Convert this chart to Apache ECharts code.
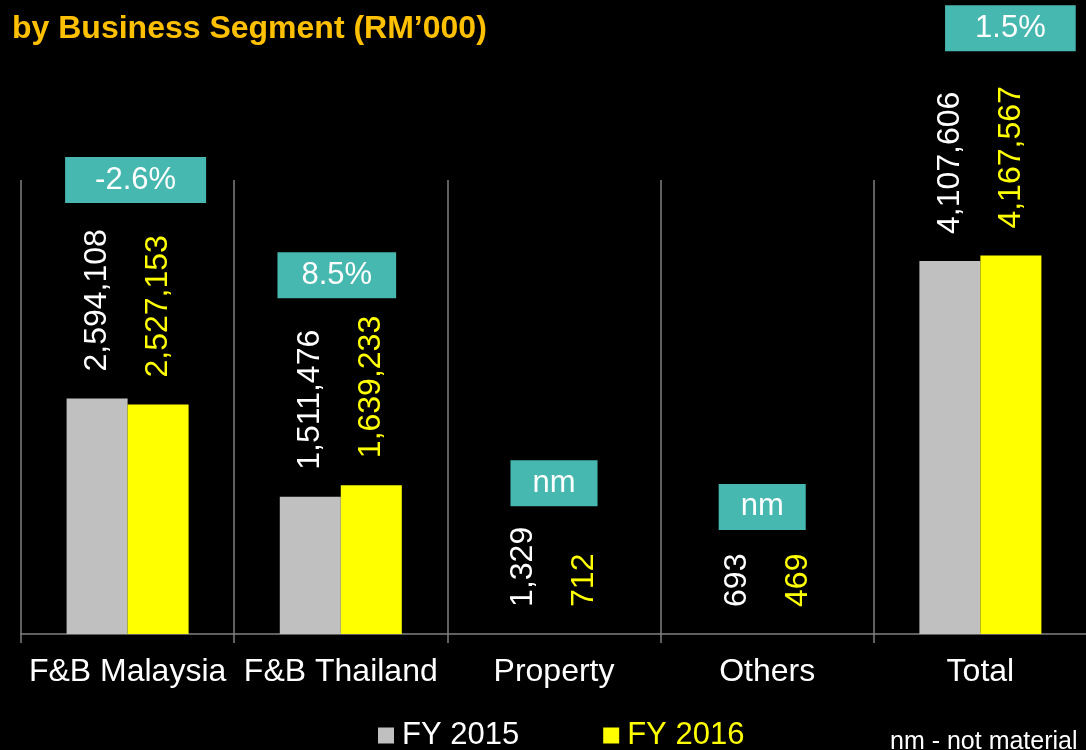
<!DOCTYPE html>
<html>
<head>
<meta charset="utf-8">
<script src="https://cdn.jsdelivr.net/npm/echarts@6/dist/echarts.min.js"></script>
<style>
html,body{margin:0;padding:0;background:#000;}
#chart{width:1086px;height:750px;}
</style>
</head>
<body>
<div id="chart"></div>
<script>
// ---- data ----
var categories = ['F&B Malaysia', 'F&B Thailand', 'Property', 'Others', 'Total'];
var fy2015 = [2594108, 1511476, 1329, 693, 4107606];
var fy2016 = [2527153, 1639233, 712, 469, 4167567];
var changeLabels = ['-2.6%', '8.5%', 'nm', 'nm', '1.5%'];
var seriesNames = ['FY 2015', 'FY 2016'];

// ---- layout of the change boxes (annotation placement) ----
var boxLayout = [
  {y: 5.0e6,  dx: 8,   padX: 30},
  {y: 3.95e6, dx: -4,  padX: 24},
  {y: 1.66e6, dx: 0,   padX: 22},
  {y: 1.40e6, dx: -5,  padX: 22},
  {y: 6.67e6, dx: 30,  padX: 30}
];

var FONT = '"Liberation Sans", Arial, sans-serif';
function fmt(v){ return String(v).replace(/\B(?=(\d{3})+(?!\d))/g, ','); }

var chart = echarts.init(document.getElementById('chart'));
var option = {
  backgroundColor: '#000000',
  animation: false,
  title: [
    {text: 'by Business Segment (RM\u2019000)', left: 7, top: 8,
     textStyle: {color: '#FFC000', fontSize: 32, fontWeight: 'bold', fontFamily: FONT}},
    {text: 'nm - not material', left: 885, top: 725,
     textStyle: {color: '#FFFFFF', fontSize: 25, fontWeight: 'normal', fontFamily: FONT}}
  ],
  legend: {
    left: 373, top: 715,
    itemWidth: 16, itemHeight: 16, itemGap: 84,
    icon: 'rect',
    data: [
      {name: seriesNames[0], textStyle: {color: '#FFFFFF'}},
      {name: seriesNames[1], textStyle: {color: '#FFFF00'}}
    ],
    textStyle: {fontSize: 31, fontFamily: FONT, lineHeight: 31, padding: [0, 0, 0, 3]}
  },
  grid: {left: 21, width: 1066, top: 180, bottom: 116, containLabel: false, outerBoundsMode: 'none'},
  xAxis: {
    type: 'category',
    data: categories,
    boundaryGap: true,
    axisLine: {show: true, lineStyle: {color: '#808080', width: 1.5}},
    axisTick: {show: true, length: 9, alignWithLabel: false, lineStyle: {color: '#808080', width: 1.5}},
    splitLine: {show: true, lineStyle: {color: '#808080', width: 1.5}},
    axisLabel: {color: '#FFFFFF', fontSize: 32, fontFamily: FONT, margin: 22, interval: 0}
  },
  yAxis: {
    type: 'value', min: 0, max: 5000000,
    show: false, splitLine: {show: false}
  },
  series: [
    {
      name: seriesNames[0], type: 'bar', data: fy2015,
      barWidth: 61, barGap: '0%',
      itemStyle: {color: '#C0C0C0'},
      label: {show: true, position: 'top', distance: 27, rotate: 90,
              align: 'left', verticalAlign: 'middle',
              color: '#FFFFFF', fontSize: 32, fontFamily: FONT,
              formatter: function(p){ return fmt(p.value); }}
    },
    {
      name: seriesNames[1], type: 'bar', data: fy2016,
      barWidth: 61, barGap: '0%',
      itemStyle: {color: '#FFFF00'},
      label: {show: true, position: 'top', distance: 27, rotate: 90,
              align: 'left', verticalAlign: 'middle',
              color: '#FFFF00', fontSize: 32, fontFamily: FONT,
              formatter: function(p){ return fmt(p.value); }}
    },
    {
      name: 'change', type: 'scatter', symbolSize: 0, clip: false, silent: true,
      z: 10,
      itemStyle: {opacity: 1},
      data: changeLabels.map(function(t, i){
        var b = boxLayout[i];
        return {
          value: [i, b.y],
          label: {
            show: true, position: 'inside', formatter: t,
            offset: [b.dx, 0], opacity: 1,
            color: '#FFFFFF', fontSize: 31, fontFamily: FONT, lineHeight: 31,
            backgroundColor: '#47B8B0', padding: [8, b.padX, 7, b.padX]
          }
        };
      })
    }
  ]
};
chart.setOption(option);
</script>
</body>
</html>
